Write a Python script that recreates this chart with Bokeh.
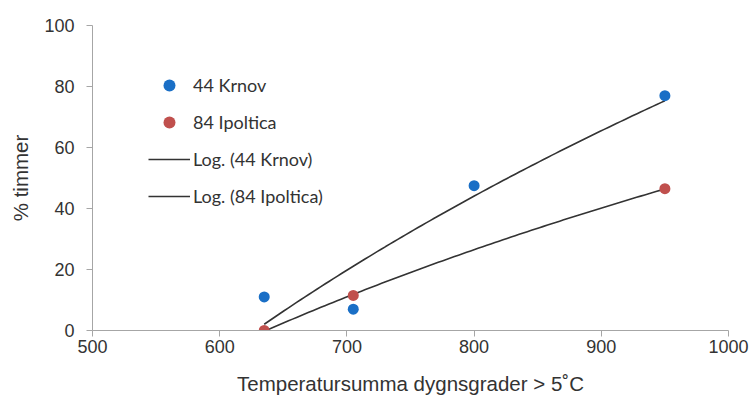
import numpy as np
from bokeh.plotting import figure
from bokeh.models import Range1d, Legend, LegendItem, FixedTicker
from bokeh.embed import file_html
from bokeh.resources import INLINE

# Data
krnov_x = [635, 705, 800, 950]
krnov_y = [11, 7, 47.5, 77]
ipol_x = [635, 705, 950]
ipol_y = [0, 11.5, 46.5]
x_ticks = [500, 600, 700, 800, 900, 1000]
y_ticks = [0, 20, 40, 60, 80, 100]

FONT = "Liberation Sans"
TXT = "#333333"
AX = "#a6a6a6"

p = figure(width=753, height=398, output_backend="svg", toolbar_location=None,
           x_range=Range1d(500, 1000), y_range=Range1d(0, 100),
           min_border_left=92, min_border_right=25, min_border_top=25, min_border_bottom=68)
p.outline_line_color = None
p.grid.visible = False


def log_fit(xs, ys):
    a, b = np.polyfit(np.log(xs), ys, 1)
    xx = np.linspace(min(xs), max(xs), 100)
    return xx, a * np.log(xx) + b

kx, ky = log_fit(krnov_x, krnov_y)
ix, iy = log_fit(ipol_x, ipol_y)

l1 = p.line(kx, ky, line_color="#333333", line_width=1.6)
l2 = p.line(ix, iy, line_color="#333333", line_width=1.6)
c1 = p.scatter(krnov_x, krnov_y, size=11, fill_color="#1a6fc6", line_color=None)
c2 = p.scatter(ipol_x, ipol_y, size=11, fill_color="#c0504d", line_color=None)

for ax in (p.xaxis[0], p.yaxis[0]):
    ax.axis_line_color = AX
    ax.major_tick_line_color = AX
    ax.minor_tick_line_color = None
    ax.major_tick_out = 6
    ax.major_tick_in = 0
    ax.major_label_text_font = FONT
    ax.major_label_text_font_size = "18px"
    ax.major_label_text_color = TXT
    ax.axis_label_text_font = FONT
    ax.axis_label_text_font_size = "20.5px"
    ax.axis_label_text_color = TXT
    ax.axis_label_text_font_style = "normal"

p.xaxis.ticker = FixedTicker(ticks=x_ticks)
p.yaxis.ticker = FixedTicker(ticks=y_ticks)
p.xaxis.axis_label = "Temperatursumma dygnsgrader > 5˚C"
p.yaxis.axis_label = "% timmer"
p.xaxis.major_label_standoff = 3
p.xaxis.axis_label_standoff = 16
p.yaxis.major_label_standoff = 12
p.yaxis.axis_label_standoff = 9

legend = Legend(items=[
    LegendItem(label="44 Krnov", renderers=[c1]),
    LegendItem(label="84 Ipoltica", renderers=[c2]),
    LegendItem(label="Log. (44 Krnov)", renderers=[l1]),
    LegendItem(label="Log. (84 Ipoltica)", renderers=[l2]),
], location=(56, 119), padding=0, margin=0, border_line_color=None,
    background_fill_alpha=0, glyph_width=42, glyph_height=30, spacing=7,
    label_standoff=3, label_text_font="Lato", label_text_font_size="18px",
    label_text_color=TXT)
p.add_layout(legend)

open("out.html", "w").write(file_html(p, INLINE))
